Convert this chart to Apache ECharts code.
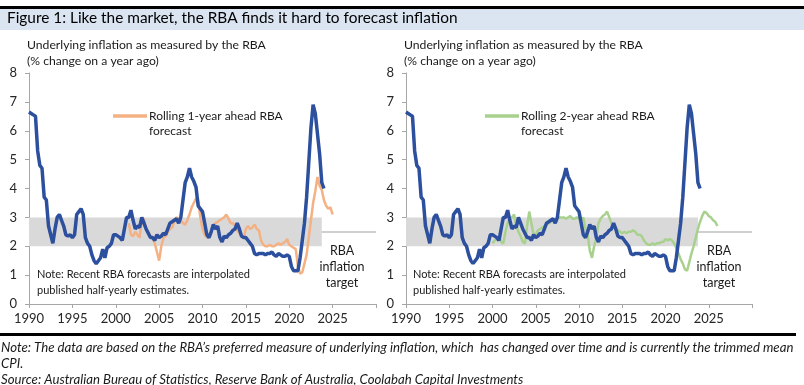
<!DOCTYPE html>
<html><head><meta charset="utf-8">
<script src="https://cdn.jsdelivr.net/npm/echarts@6/dist/echarts.min.js"></script>
<style>html,body{margin:0;padding:0;background:#fff}#c{width:804px;height:385px}</style>
</head><body><div id="c"></div>
<script>
// ---- data (quarterly, year-ended % change) ----
var xTicks = [1990, 1995, 2000, 2005, 2010, 2015, 2020, 2025];
var yTicks = [0, 1, 2, 3, 4, 5, 6, 7, 8];
var targetLow = 2, targetHigh = 3, targetMid = 2.5, bandEnd = 2023.75;

var underlyingStart = 1990;
var underlying = [6.65,6.6,6.55,6.5, 5.3,4.8,4.7,3.7, 3.6,2.7,2.4,2.1, 2.6,3.0,3.1,2.9,
  2.7,2.4,2.35,2.4, 2.3,2.4,3.1,3.2, 3.3,3.1,2.3,2.1, 2.0,1.7,1.5,1.4, 1.5,1.6,1.9,1.6,
  1.95,2.0,2.1,2.4, 2.4,2.35,2.3,2.2, 2.6,3.0,3.0,3.25, 2.9,2.6,2.7,2.65, 3.0,2.8,2.6,2.45,
  2.3,2.3,2.2,2.4, 2.3,2.35,2.45,2.4, 2.6,2.8,2.85,2.9, 2.95,2.8,3.0,3.6, 4.2,4.4,4.7,4.4,
  4.25,4.05,3.4,3.3, 3.2,2.8,2.4,2.3, 2.5,2.75,2.6,2.7, 2.3,2.15,2.35,2.3, 2.4,2.45,2.55,2.6,
  2.8,2.6,2.35,2.3, 2.3,2.2,2.1,2.0, 1.75,1.7,1.75,1.75, 1.75,1.7,1.75,1.75, 1.8,1.7,1.65,1.75,
  1.7,1.65,1.65,1.7, 1.65,1.3,1.15,1.15, 1.15,1.6,2.2,2.8, 3.7,4.9,6.1,6.9, 6.6,5.9,5.2,4.2, 4.0];

var fc1Start = 2001.5;
var fc1 = [2.8,2.4, 2.35,2.5,2.4,2.3, 2.9,2.95,2.6,2.5, 2.35,2.3,2.1,1.8, 1.5,2.0,2.3,2.35,
  2.5,2.6,2.65,2.85, 3.0,2.95,2.9,2.8, 2.75,2.9,3.1,3.35, 3.5,3.65,3.6,3.0, 2.6,2.4,2.3,2.4,
  2.5,2.7,2.8,2.85, 2.9,2.95,3.0,3.1, 2.95,2.8,2.8,2.7, 2.55,2.45,2.35,2.3, 2.6,2.7,2.6,2.65,
  2.75,2.6,2.55,2.2, 2.05,2.0,2.0,2.05, 2.0,2.0,2.05,2.1, 2.05,2.1,2.15,2.25, 2.05,2.0,1.95,1.9,
  1.3,1.05,1.1,1.4, 1.7,2.3,2.9,3.5, 3.9,4.4,4.1,3.95, 3.6,3.4,3.3,3.35, 3.1];

var fc2Start = 2000;
var fc2 = [2.1,2.2,2.25,2.35, 2.15,2.1,2.5,2.8, 2.95,3.0,3.1,2.7, 2.5,2.35,2.15,2.1,
  2.7,3.2,2.8,2.4, 2.4,2.55,2.6,2.65, 2.7,2.75,2.8,2.85, 2.9,2.9,2.95,3.0, 3.0,3.0,2.95,3.0,
  3.05,2.95,2.95,3.0, 2.95,2.9,3.0,2.6, 2.4,1.85,1.6,2.0, 2.3,2.8,2.95,3.05, 3.1,3.2,3.0,2.8,
  2.7,2.6,2.55,2.5, 2.45,2.5,2.45,2.5, 2.5,2.55,2.5,2.4, 2.4,2.35,2.2,2.1, 2.05,2.05,2.1,2.05,
  2.1,2.1,2.15,2.15, 2.25,2.2,2.25,2.2, 2.1,1.95,1.75,1.55, 1.4,1.2,1.15,1.45, 1.75,2.0,2.3,2.6,
  2.85,3.05,3.2,3.15, 3.05,3.0,2.9,2.85, 2.7];

var subtitle1 = 'Underlying inflation as measured by the RBA';
var subtitle2 = '(% change on a year ago)';
var legend1 = ['Rolling 1-year ahead RBA', 'forecast'];
var legend2 = ['Rolling 2-year ahead RBA', 'forecast'];
var noteText = ['Note: Recent RBA forecasts are interpolated', 'published half-yearly estimates.'];
var targetText = 'RBA\ninflation\ntarget';
var titleText = 'Figure 1: Like the market, the RBA finds it hard to forecast inflation';
var footer = ['Note: The data are based on the RBA\u2019s preferred measure of underlying inflation, which  has changed over time and is currently the trimmed mean',
  'CPI.', 'Source: Australian Bureau of Statistics, Reserve Bank of Australia, Coolabah Capital Investments'];

function pairs(start, vals){ return vals.map(function(v,i){ return [start + i*0.25, v]; }); }

var FONT = 'Lato';
var BLUE = '#2c4f9e', ORANGE = '#f4b183', GREEN = '#a9d18e';

var chart = echarts.init(document.getElementById('c'));
var grids = [
  {left: 29, top: 73, width: 347, height: 231},
  {left: 406, top: 73, width: 346, height: 231}
];
function xAx(i){ return {type:'value', gridIndex:i, min:1990, max:2030, interval:5,
  axisLine:{lineStyle:{color:'#a6a6a6'}}, axisTick:{length:4, lineStyle:{color:'#a6a6a6'}},
  splitLine:{show:false},
  axisLabel:{color:'#262626', fontFamily:FONT, fontSize:13, margin:8,
    formatter:function(v){ return xTicks.indexOf(v) >= 0 ? String(v) : ''; }}}; }
function yAx(i){ return {type:'value', gridIndex:i, min:0, max:8, interval:1,
  axisLine:{show:true, lineStyle:{color:'#a6a6a6'}}, axisTick:{show:true, length:4, lineStyle:{color:'#a6a6a6'}},
  splitLine:{show:false},
  axisLabel:{color:'#262626', fontFamily:FONT, fontSize:13, margin:12}}; }

function bandSeries(i){
  return {type:'line', xAxisIndex:i, yAxisIndex:i, data:[], silent:true, z:1,
    markArea:{silent:true, itemStyle:{color:'#d9d9d9'},
      data:[[{coord:[1990, targetLow]},{coord:[bandEnd, targetHigh]}]]},
    markLine:{silent:true, symbol:'none', label:{show:false},
      lineStyle:{color:'#bfbfbf', type:'solid', width:1.5},
      data:[[{coord:[bandEnd, targetMid]},{coord:[2030, targetMid]}]]}};
}

var txt = function(x, y, s, opt){ opt = opt||{}; return {type:'text', left:x, top:y, silent:true,
  style:{text:s, fill:opt.fill||'#1a1a1a', font:(opt.style||'normal')+' '+(opt.size||12)+'px '+FONT,
  textAlign:opt.align||'left', lineHeight:opt.lh||16}}; };

var graphics = [
  {type:'rect', shape:{x:0,y:9,width:804,height:21}, style:{fill:'#dbe5f1'}, silent:true},
  {type:'rect', shape:{x:0,y:6,width:804,height:3}, style:{fill:'#000'}, silent:true},
  {type:'text', left:7, top:11, silent:true, style:{text:titleText, fill:'#000', font:'15.4px '+FONT}},
  txt(27, 37, subtitle1, {size:12.2}), txt(27, 53, subtitle2, {size:12.2}),
  txt(404, 37, subtitle1, {size:12.2}), txt(404, 53, subtitle2, {size:12.2}),
  {type:'line', shape:{x1:113,y1:116,x2:147,y2:116}, style:{stroke:ORANGE, lineWidth:3.5}, silent:true},
  txt(149, 108, legend1.join('\n'), {lh:15.5}),
  {type:'line', shape:{x1:485,y1:116,x2:519,y2:116}, style:{stroke:GREEN, lineWidth:3.5}, silent:true},
  txt(521, 108, legend2.join('\n'), {lh:15.5}),
  txt(37, 266, noteText.join('\n'), {lh:16, size:11}),
  txt(413, 266, noteText.join('\n'), {lh:16, size:11}),
  {type:'text', x:342, y:243, silent:true, style:{text:targetText, fill:'#1a1a1a', font:'12.5px '+FONT, textAlign:'center', lineHeight:16}},
  {type:'text', x:719, y:243, silent:true, style:{text:targetText, fill:'#1a1a1a', font:'12.5px '+FONT, textAlign:'center', lineHeight:16}},
  {type:'rect', shape:{x:0,y:333,width:796,height:3}, style:{fill:'#000'}, silent:true},
  txt(1, 340, footer.join('\n'), {style:'italic', size:13.2, lh:16})
];

chart.setOption({
  animation:false,
  grid: grids,
  xAxis: [xAx(0), xAx(1)],
  yAxis: [yAx(0), yAx(1)],
  series: [
    bandSeries(0), bandSeries(1),
    {type:'line', xAxisIndex:0, yAxisIndex:0, data:pairs(fc1Start, fc1), showSymbol:false, z:3,
      lineStyle:{color:ORANGE, width:2.5}, itemStyle:{color:ORANGE}},
    {type:'line', xAxisIndex:0, yAxisIndex:0, data:pairs(underlyingStart, underlying), showSymbol:false, z:4,
      lineStyle:{color:BLUE, width:3.5}, itemStyle:{color:BLUE}},
    {type:'line', xAxisIndex:1, yAxisIndex:1, data:pairs(fc2Start, fc2), showSymbol:false, z:3,
      lineStyle:{color:GREEN, width:2.5}, itemStyle:{color:GREEN}},
    {type:'line', xAxisIndex:1, yAxisIndex:1, data:pairs(underlyingStart, underlying), showSymbol:false, z:4,
      lineStyle:{color:BLUE, width:3.5}, itemStyle:{color:BLUE}}
  ],
  graphic: graphics
});
</script></body></html>
